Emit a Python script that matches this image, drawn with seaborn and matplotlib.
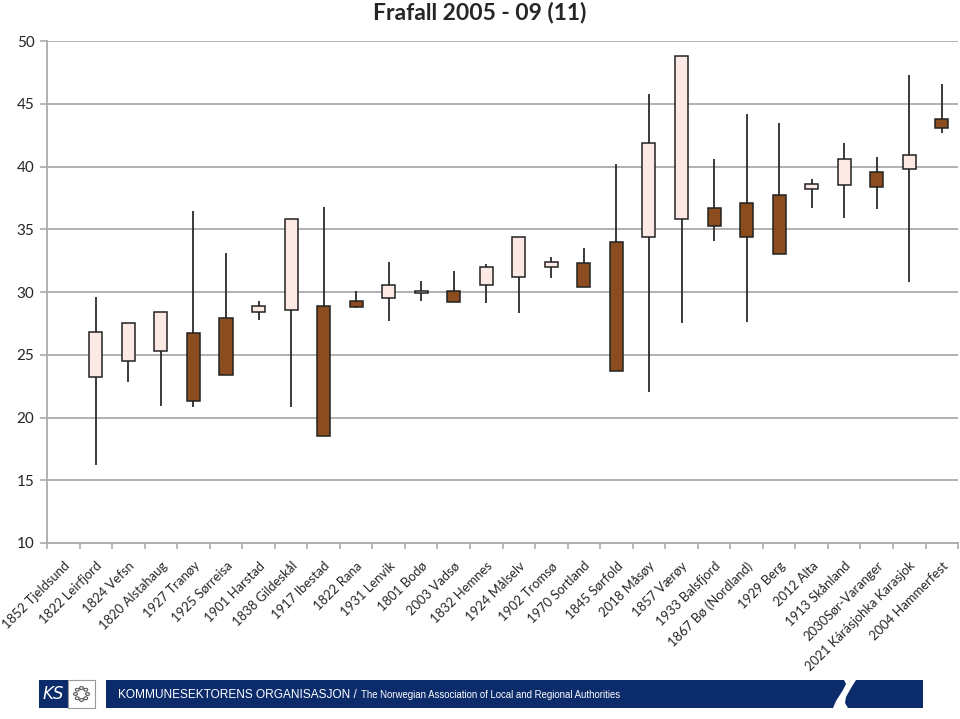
import numpy as np
import pandas as pd
import seaborn as sns
import matplotlib.pyplot as plt
from matplotlib.patches import Rectangle, Circle, Polygon

sns.set_theme(style="whitegrid")
plt.rcParams['font.family'] = ['Lato', 'DejaVu Sans']

kommuner = ["1852 Tjeldsund", "1822 Leirfjord", "1824 Vefsn", "1820 Alstahaug", "1927 Tranøy",
            "1925 Sørreisa", "1901 Harstad", "1838 Gildeskål", "1917 Ibestad", "1822 Rana",
            "1931 Lenvik", "1801 Bodø", "2003 Vadsø", "1832 Hemnes", "1924 Målselv",
            "1902 Tromsø", "1970 Sortland", "1845 Sørfold", "2018 Måsøy", "1857 Værøy",
            "1933 Balsfjord", "1867 Bø (Nordland)", "1929 Berg", "2012 Alta", "1913 Skånland",
            "2030Sør-Varanger", "2021 Kárásjohka Karasjok", "2004 Hammerfest"]

# open / close / high / low (first kommune has no data)
aapning = [np.nan, 23.2, 24.5, 25.3, 26.7, 27.9, 28.4, 28.6, 28.9, 29.3,
           29.5, 29.9, 30.1, 30.6, 31.2, 32.0, 32.3, 34.0, 34.4, 35.8,
           36.7, 37.1, 37.7, 38.2, 38.5, 39.6, 39.8, 43.8]
slutt = [np.nan, 26.8, 27.5, 28.4, 21.3, 23.4, 28.9, 35.8, 18.5, 28.8,
         30.6, 30.1, 29.2, 32.0, 34.4, 32.4, 30.4, 23.7, 41.9, 48.8,
         35.3, 34.4, 33.0, 38.6, 40.6, 38.4, 40.9, 43.1]
hoy = [np.nan, 29.6, 27.5, 28.4, 36.5, 33.1, 29.3, 35.8, 36.8, 30.1,
       32.4, 30.9, 31.7, 32.2, 34.4, 32.8, 33.5, 40.2, 45.8, 48.8,
       40.6, 44.2, 43.5, 39.0, 41.9, 40.8, 47.3, 46.6]
lav = [np.nan, 16.2, 22.8, 20.9, 20.8, 23.4, 27.8, 20.8, 18.5, 28.7,
       27.7, 29.3, 29.2, 29.1, 28.3, 31.1, 30.4, 23.7, 22.0, 27.5,
       34.1, 27.6, 33.0, 36.7, 35.9, 36.6, 30.8, 42.7]

df = pd.DataFrame({"kommune": kommuner, "open": aapning, "close": slutt,
                   "high": hoy, "low": lav})
df["x"] = np.arange(len(df))
df["opp"] = df.close >= df.open
df["bunn"] = df[["open", "close"]].min(axis=1)
df["hoyde"] = (df.close - df.open).abs()

lys = "#FDE9E3"
brun = "#8B4D20"

fig = plt.figure(figsize=(9.6, 7.19), dpi=100)
ax = fig.add_axes([0.049, 0.2448, 0.949, 0.698])
ax.set_facecolor("white")

ax.vlines(df.x, df.low, df.high, color="#2b2b2b", lw=1.3, zorder=2)
ax.bar(df.x, df.hoyde, bottom=df.bunn, width=0.4,
       color=np.where(df.opp, lys, brun), edgecolor="#222222", lw=1.1, zorder=3)

ax.set_xlim(-0.5, len(df) - 0.5)
ax.set_ylim(10, 50)
ax.set_yticks(np.arange(10, 51, 5))
ax.grid(axis="y", color="#ababab", lw=1.3)
ax.grid(axis="x", visible=False)
for s in ["top", "right"]:
    ax.spines[s].set_visible(False)
for s in ["left", "bottom"]:
    ax.spines[s].set_color("#ababab")
    ax.spines[s].set_linewidth(1.3)

ax.set_xticks(df.x)
ax.set_xticklabels(df.kommune, rotation=45, ha="right", rotation_mode="anchor", fontsize=9.4)
ax.set_xticks(np.arange(-0.5, len(df)), minor=True)
ax.tick_params(axis="x", which="major", length=0, pad=12)
ax.tick_params(axis="x", which="minor", length=4, color="#ababab", width=1.2, direction="out", bottom=True)
ax.tick_params(axis="y", length=5, color="#ababab", width=1.2, left=True, labelsize=11, pad=4)
ax.set_xlabel("")
ax.set_ylabel("")

fig.text(0.5, 0.983, "Frafall 2005 - 09 (11)", ha="center", va="center",
         fontsize=16.5, fontweight="bold")

# footer
W, H = 960, 719
def fx(x):
    return x / W
def fy(y):
    return 1 - y / H

blaa = "#0B2B6B"
fig.patches.append(Rectangle((fx(39), fy(708)), fx(29), 28 / H, transform=fig.transFigure,
                             facecolor=blaa, edgecolor="none"))
fig.patches.append(Rectangle((fx(68), fy(708)), fx(27), 28 / H, transform=fig.transFigure,
                             facecolor="white", edgecolor="#9a9a9a", lw=0.8))
fig.text(fx(53), fy(694), "KS", color="white", fontsize=12, style="italic",
         ha="center", va="center", family="DejaVu Sans")
for v in np.linspace(0, 2 * np.pi, 9)[:-1]:
    fig.patches.append(Circle((fx(81.5 + 6 * np.cos(v)), fy(694 + 6 * np.sin(v))), 1.9 / W,
                              transform=fig.transFigure, facecolor="white",
                              edgecolor="#555555", lw=0.8))
fig.patches.append(Rectangle((fx(106), fy(708)), fx(817), 28 / H, transform=fig.transFigure,
                             facecolor=blaa, edgecolor="none"))
fig.patches.append(Polygon([(fx(844), fy(680)), (fx(856), fy(680)), (fx(851), fy(688)),
                            (fx(846), fy(697)), (fx(845), fy(703)), (fx(848), fy(708)),
                            (fx(833), fy(708)), (fx(836), fy(701)), (fx(843), fy(690)),
                            (fx(846), fy(684))],
                           closed=True, transform=fig.transFigure, facecolor="white",
                           edgecolor="none"))
t1 = fig.text(fx(118), fy(695), "KOMMUNESEKTORENS ORGANISASJON /", color="white", fontsize=8.6,
              ha="left", va="center", family="Liberation Sans")
fig.canvas.draw()
ende = t1.get_window_extent().x1
fig.text((ende + 4) / W, fy(695), "The Norwegian Association of Local and Regional Authorities",
         color="white", fontsize=6.9, ha="left", va="center", family="Liberation Sans")

fig.savefig("out.png", dpi=100, facecolor="white")
